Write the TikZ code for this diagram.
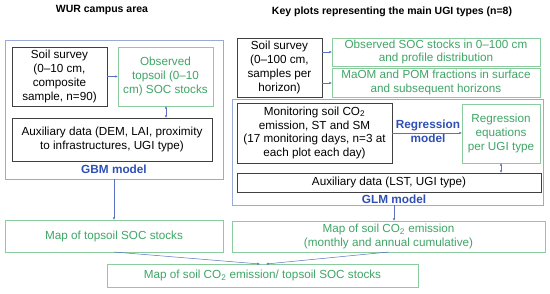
\documentclass[tikz,border=0pt]{standalone}
\usepackage{fontspec}
\setmainfont{Liberation Sans}
\usetikzlibrary{arrows.meta}
\definecolor{blkc}{HTML}{404040}
\definecolor{bluebox}{HTML}{9AAAD8}
\definecolor{greenbox}{HTML}{8CCB9E}
\definecolor{greentxt}{HTML}{3FA566}
\definecolor{bluetxt}{HTML}{2F4FB5}
\definecolor{arrc}{HTML}{5A70C0}
\begin{document}
\begin{tikzpicture}[x=1pt,y=-1pt,
  every node/.style={inner sep=0pt, outer sep=0pt, font=\fontsize{11.7}{13.9}\selectfont, align=center},
  blk/.style={draw=blkc, line width=0.8pt, fill=white, text=black, align=center},
  grn/.style={draw=greenbox, line width=0.8pt, fill=white, text=greentxt, align=center},
  outer/.style={draw=bluebox, line width=0.8pt},
  ttl/.style={font=\fontsize{10.5}{13}\selectfont\bfseries, text=black},
  mdl/.style={font=\fontsize{11.8}{14}\selectfont\bfseries, text=bluetxt, align=center},
  arr/.style={draw=arrc, line width=0.5pt, -{Latex[length=2.6pt,width=2.4pt]}},
  darr/.style={draw=arrc, line width=0.5pt, {Latex[length=2.6pt,width=2.4pt]}-{Latex[length=2.6pt,width=2.4pt]}},
]
\useasboundingbox (0,0) rectangle (550,293);
% titles
\node[ttl] (t1) at (102,10) {WUR campus area};
\node[ttl] (t2) at (392,12) {Key plots representing the main UGI types (n=8)};
% left side
\node[outer, minimum width=218pt, minimum height=139pt] (L) at (114,109.5) {};
\node[blk, minimum width=95pt, minimum height=59pt] (ss1) at (59.5,76.5) {Soil survey\\(0--10 cm,\\composite\\sample, n=90)};
\node[grn, minimum width=95pt, minimum height=59pt] (obs1) at (165.5,76.5) {Observed\\topsoil (0--10\\cm) SOC stocks};
\node[blk, minimum width=200pt, minimum height=43pt] (aux1) at (112,139.5) {Auxiliary data (DEM, LAI, proximity\\to infrastructures, UGI type)};
\node[mdl] (gbm) at (114,169) {GBM model};
\node[grn, minimum width=218pt, minimum height=32pt] (map1) at (114,236) {Map of topsoil SOC stocks};
% final
\node[grn, minimum width=311pt, minimum height=23pt] (fin) at (262.5,275.5) {Map of soil CO\textsubscript{2} emission/ topsoil SOC stocks};
% right side
\node[outer, minimum width=311pt, minimum height=106pt] (R) at (387.5,152) {};
\node[blk, minimum width=85pt, minimum height=59pt] (ss2) at (279.5,67.5) {Soil survey\\(0--100 cm,\\samples per\\horizon)};
\node[grn, minimum width=208pt, minimum height=28pt] (g1) at (436,52) {Observed SOC stocks in 0--100 cm\\and profile distribution};
\node[grn, minimum width=208pt, minimum height=29pt] (g2) at (436,82.5) {MaOM and POM fractions in surface\\and subsequent horizons};
\node[blk, minimum width=155pt, minimum height=60pt] (mon) at (314.5,133) {Monitoring soil CO\textsubscript{2}\\emission, ST and SM\\(17 monitoring days, n=3 at\\each plot each day)};
\node[grn, minimum width=78pt, minimum height=59pt] (reg) at (501,133.5) {Regression\\equations\\per UGI type};
\node[mdl] (rm) at (428,131) {Regression\\model};
\node[blk, minimum width=304pt, minimum height=19pt] (aux2) at (389,182.5) {Auxiliary data (LST, UGI type)};
\node[mdl] (glm) at (394,199) {GLM model};
\node[grn, minimum width=313pt, minimum height=31pt] (map2) at (388.5,236.5) {Map of soil CO\textsubscript{2} emission\\(monthly and annual cumulative)};
% connectors
\draw[arr] (ss1.east) -- (obs1.west);
\draw[darr] (obs1.south -| 166,0) -- (aux1.north -| 166,0);
\draw[arr] (L.south -| 114,0) -- (map1.north -| 114,0);
\draw[arr] (ss2.east |- 0,52) -- (g1.west |- 0,52);
\draw[arr] (ss2.east |- 0,83) -- (g2.west |- 0,83);
\draw[arr] (mon.east) -- (reg.west |- mon.east);
\draw[darr] (reg.south -| 501,0) -- (aux2.north -| 501,0);
\draw[arr] (R.south -| 394,0) -- (map2.north -| 394,0);
\coordinate (f1) at (260,264);
\coordinate (f2) at (266,264);
\draw[arr] (map1.south) -- (f1);
\draw[arr] (map2.south) -- (f2);
\end{tikzpicture}
\end{document}
